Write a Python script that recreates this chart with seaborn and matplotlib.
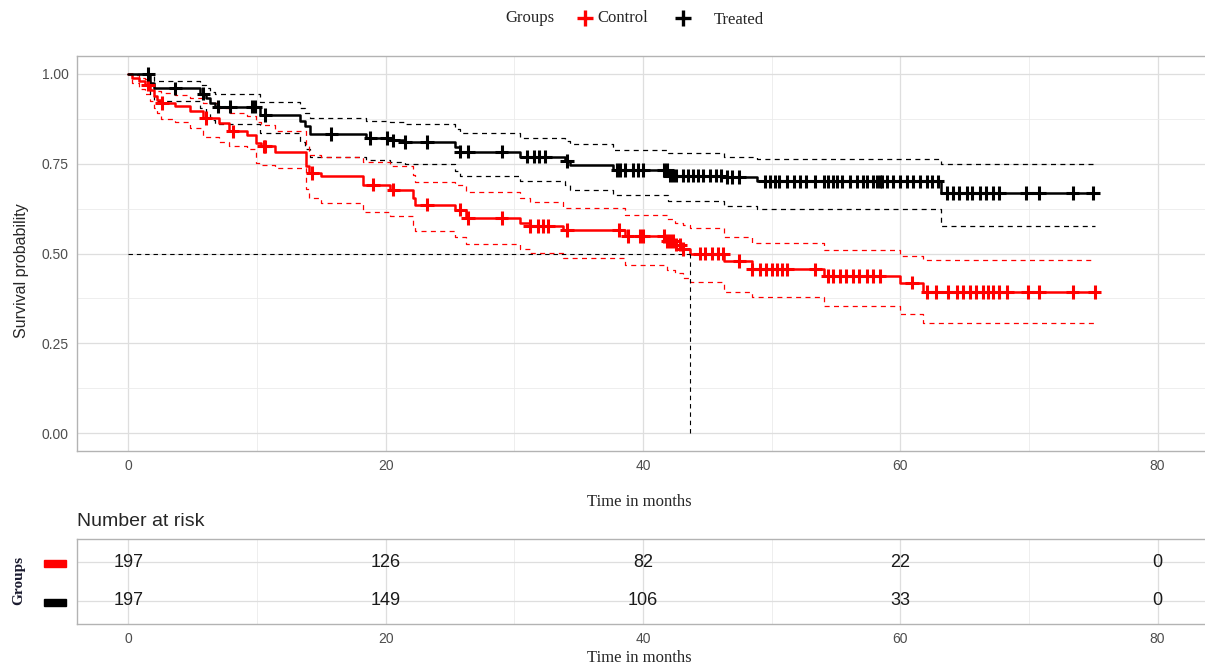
import numpy as np
import pandas as pd
import matplotlib
matplotlib.use('Agg')
import matplotlib.pyplot as plt
import seaborn as sns
from matplotlib.lines import Line2D
from matplotlib.patches import Rectangle


# Kaplan-Meier steps (months, survival, 95% CI)
ctrl_time = [0, 0.25, 0.8, 1.25, 1.7, 1.95, 2.25, 2.55, 3.65, 4.8,
             5.8, 7.05, 7.85, 9.25, 9.95, 10.3, 11.4, 13.8, 14.05, 15.0,
             18.2, 20.35, 22.1, 22.3, 25.4, 26.25, 30.4, 31.2, 33.8, 38.6,
             41.9, 42.5, 43.1, 43.65, 46.3, 48.5, 54.1, 60.0, 61.75, 75.1]
ctrl_surv = [1.0, 0.99, 0.98, 0.97, 0.955, 0.94, 0.928, 0.919, 0.91, 0.896,
             0.877, 0.863, 0.84, 0.831, 0.807, 0.798, 0.784, 0.745, 0.724, 0.716,
             0.692, 0.678, 0.655, 0.636, 0.622, 0.599, 0.585, 0.576, 0.566, 0.548,
             0.535, 0.525, 0.512, 0.5, 0.479, 0.456, 0.437, 0.419, 0.393, 0.393]
ctrl_lower = [1.0, 0.975, 0.958, 0.945, 0.925, 0.905, 0.89, 0.875, 0.865, 0.849,
              0.825, 0.81, 0.8, 0.79, 0.752, 0.747, 0.738, 0.68, 0.655, 0.642,
              0.615, 0.605, 0.58, 0.562, 0.545, 0.526, 0.512, 0.501, 0.488, 0.469,
              0.455, 0.445, 0.432, 0.421, 0.394, 0.379, 0.354, 0.331, 0.307, 0.307]
ctrl_upper = [1.0, 0.998, 0.99, 0.985, 0.975, 0.962, 0.953, 0.948, 0.942, 0.932,
              0.918, 0.905, 0.89, 0.883, 0.865, 0.858, 0.84, 0.8, 0.775, 0.768,
              0.755, 0.743, 0.72, 0.699, 0.69, 0.672, 0.655, 0.643, 0.628, 0.608,
              0.595, 0.585, 0.58, 0.572, 0.547, 0.53, 0.509, 0.494, 0.481, 0.481]

trt_time = [0, 1.7, 1.95, 5.6, 6.0, 6.35, 6.75, 10.25, 13.35, 13.75,
            14.15, 18.5, 20.35, 21.5, 25.4, 25.8, 30.45, 33.95, 34.3, 37.7,
            41.95, 46.3, 48.85, 63.15, 75.1]
trt_surv = [1.0, 0.975, 0.96, 0.945, 0.933, 0.919, 0.909, 0.886, 0.87, 0.855,
            0.833, 0.822, 0.815, 0.81, 0.797, 0.784, 0.77, 0.758, 0.747, 0.733,
            0.717, 0.713, 0.701, 0.669, 0.669]
trt_lower = [1.0, 0.945, 0.925, 0.905, 0.89, 0.873, 0.862, 0.835, 0.81, 0.79,
             0.77, 0.76, 0.755, 0.748, 0.73, 0.716, 0.703, 0.69, 0.677, 0.663,
             0.646, 0.633, 0.624, 0.576, 0.576]
trt_upper = [1.0, 0.993, 0.981, 0.97, 0.96, 0.95, 0.944, 0.922, 0.905, 0.89,
             0.877, 0.868, 0.866, 0.86, 0.848, 0.835, 0.822, 0.812, 0.805, 0.789,
             0.78, 0.77, 0.763, 0.749, 0.749]

# censoring times (months)
ctrl_censor = [1.5, 2.6, 6.0, 8.1, 10.5, 10.6, 14.3, 19.0, 20.6, 23.2,
               25.8, 26.4, 29.0, 31.2, 31.8, 32.2, 32.6, 34.1, 38.1, 38.8,
               39.8, 40.0, 41.6, 41.9, 42.1, 42.3, 42.6, 42.9, 43.1, 44.4,
               44.8, 45.4, 45.8, 46.2, 47.5, 48.5, 49.1, 49.6, 50.0, 50.4,
               50.8, 51.2, 53.4, 54.4, 54.8, 55.3, 55.8, 56.3, 56.8, 57.4,
               57.9, 58.4, 60.9, 62.1, 62.8, 63.7, 64.4, 64.9, 65.4, 65.9,
               66.4, 66.8, 67.2, 67.7, 68.3, 69.9, 70.8, 73.4, 75.1]
trt_censor = [1.55, 3.65, 5.83, 6.99, 7.92, 9.63, 9.86, 10.64, 15.77, 18.8,
              20.1, 20.6, 21.5, 23.2, 25.8, 26.4, 29.0, 31.0, 31.5, 31.9,
              32.4, 34.1, 38.0, 38.2, 38.6, 39.2, 39.6, 40.0, 41.6, 41.9,
              42.1, 42.3, 42.6, 43.1, 43.5, 43.9, 44.3, 44.7, 45.2, 45.7,
              46.1, 46.5, 46.9, 47.5, 49.5, 49.9, 50.3, 50.6, 51.2, 51.7,
              52.2, 52.7, 53.4, 54.1, 54.4, 54.8, 55.1, 55.5, 56.1, 56.6,
              57.1, 57.4, 57.9, 58.2, 58.4, 58.6, 59.0, 59.4, 60.0, 60.5,
              61.0, 61.5, 62.1, 62.5, 62.9, 63.6, 64.1, 64.6, 65.2, 65.6,
              66.2, 66.7, 67.2, 67.7, 69.8, 70.8, 73.4, 75.0]

groups = ['Control', 'Treated']
colors = {'Control': '#FF0000', 'Treated': '#000000'}

risk_times = [0, 20, 40, 60, 80]
risk_ctrl = [197, 126, 82, 22, 0]
risk_trt = [197, 149, 106, 33, 0]


def step_value(times, values, t):
    idx = np.searchsorted(times, t, side='right') - 1
    return np.asarray(values)[idx]


curves = pd.concat([
    pd.DataFrame({'time': ctrl_time, 'surv': ctrl_surv, 'lower': ctrl_lower,
                  'upper': ctrl_upper, 'group': 'Control'}),
    pd.DataFrame({'time': trt_time, 'surv': trt_surv, 'lower': trt_lower,
                  'upper': trt_upper, 'group': 'Treated'}),
], ignore_index=True)

censors = pd.concat([
    pd.DataFrame({'time': ctrl_censor,
                  'surv': step_value(ctrl_time, ctrl_surv, ctrl_censor),
                  'group': 'Control'}),
    pd.DataFrame({'time': trt_censor,
                  'surv': step_value(trt_time, trt_surv, trt_censor),
                  'group': 'Treated'}),
], ignore_index=True)

sns.set_style('white')
plt.rcParams['font.family'] = ['Liberation Sans', 'DejaVu Sans']
SERIF = ['Liberation Serif', 'DejaVu Serif']

W, H = 1205, 669
fig = plt.figure(figsize=(W / 100, H / 100), dpi=100)
ax = fig.add_axes([77 / W, 1 - 451 / H, 1132 / W, 395 / H])
tab = fig.add_axes([77 / W, 1 - 624 / H, 1132 / W, 85 / H])


def style(a):
    a.set_facecolor('white')
    for s in a.spines.values():
        s.set_color('#B3B3B3')
        s.set_linewidth(1.0)
    a.set_axisbelow(True)
    a.grid(which='major', color='#DEDEDE', lw=0.9)
    a.grid(which='minor', color='#EBEBEB', lw=0.6)
    a.tick_params(which='major', length=3, width=0.8, color='#B3B3B3',
                  labelsize=10, labelcolor='#4D4D4D', pad=3)
    a.tick_params(which='minor', length=0)


# survival curves
dash = (0, (4, 3.5))
for col, lw, ls in [('lower', 0.9, dash), ('upper', 0.9, dash), ('surv', 1.8, '-')]:
    sns.lineplot(data=curves, x='time', y=col, hue='group', palette=colors,
                 estimator=None, drawstyle='steps-post', lw=lw, linestyle=ls,
                 legend=False, ax=ax)

sns.scatterplot(data=censors, x='time', y='surv', hue='group', palette=colors,
                marker='+', s=95, linewidth=2.2, legend=False, ax=ax, zorder=5)

# median survival line for Control
med = ctrl_time[int(np.argmax(np.asarray(ctrl_surv) <= 0.5))]
ax.plot([0, med], [0.5, 0.5], color='black', lw=0.8, linestyle=dash)
ax.plot([med, med], [0, 0.5], color='black', lw=0.8, linestyle=dash)

ax.set_xlim(-4, 84)
ax.set_ylim(-0.05, 1.05)
ax.set_xticks([0, 20, 40, 60, 80])
ax.set_xticks([10, 30, 50, 70], minor=True)
ax.set_yticks([0, 0.25, 0.5, 0.75, 1.0])
ax.set_yticklabels(['0.00', '0.25', '0.50', '0.75', '1.00'])
ax.set_yticks([0.125, 0.375, 0.625, 0.875], minor=True)
style(ax)
ax.set_xlabel('')
ax.set_ylabel('')
fig.text(22 / W, 1 - 271 / H, 'Survival probability', rotation=90,
         ha='center', va='center', fontsize=11.5)
fig.text(639 / W, 1 - 502 / H, 'Time in months', ha='center', va='center',
         fontsize=12, family=SERIF)

# legend on top
fig.text(530 / W, 1 - 18 / H, 'Groups', ha='center', va='center',
         fontsize=12, family=SERIF)
for xpos, g in [(585, 'Control'), (683, 'Treated')]:
    fig.add_artist(Line2D([xpos / W], [1 - 18 / H], marker='+', markersize=12,
                          mew=2.4, color=colors[g], transform=fig.transFigure))
fig.text(597 / W, 1 - 18 / H, 'Control', ha='left', va='center',
         fontsize=12, family=SERIF)
fig.text(714 / W, 1 - 20 / H, 'Treated', ha='left', va='center',
         fontsize=12, family=SERIF)

# risk table
risk = pd.DataFrame({'time': risk_times * 2,
                     'n': risk_ctrl + risk_trt,
                     'row': [0] * len(risk_times) + [1] * len(risk_times)})
for _, r in risk.iterrows():
    tab.text(r['time'], r['row'], str(int(r['n'])), ha='center', va='center',
             fontsize=13, color='#1a1a1a')
tab.set_xlim(-4, 84)
tab.set_ylim(1.59, -0.59)
tab.set_xticks([0, 20, 40, 60, 80])
tab.set_xticks([10, 30, 50, 70], minor=True)
tab.set_yticks([0, 1])
tab.set_yticklabels(['', ''])
style(tab)
tab.tick_params(axis='y', length=0)
fig.text(77 / W, 1 - 522 / H, 'Number at risk', ha='left', va='center',
         fontsize=14)
fig.text(19 / W, 1 - 580 / H, 'Groups', rotation=90, ha='center', va='center',
         fontsize=11, family=SERIF, fontweight='bold', color='#1a1a2e')
for ypos, g in [(563, 'Control'), (602, 'Treated')]:
    fig.add_artist(Rectangle((44 / W, 1 - (ypos + 3.5) / H), 22 / W, 7 / H,
                             color=colors[g], transform=fig.transFigure))
fig.text(639 / W, 1 - 658 / H, 'Time in months', ha='center', va='center',
         fontsize=12, family=SERIF)

fig.savefig('out.png', dpi=100)
